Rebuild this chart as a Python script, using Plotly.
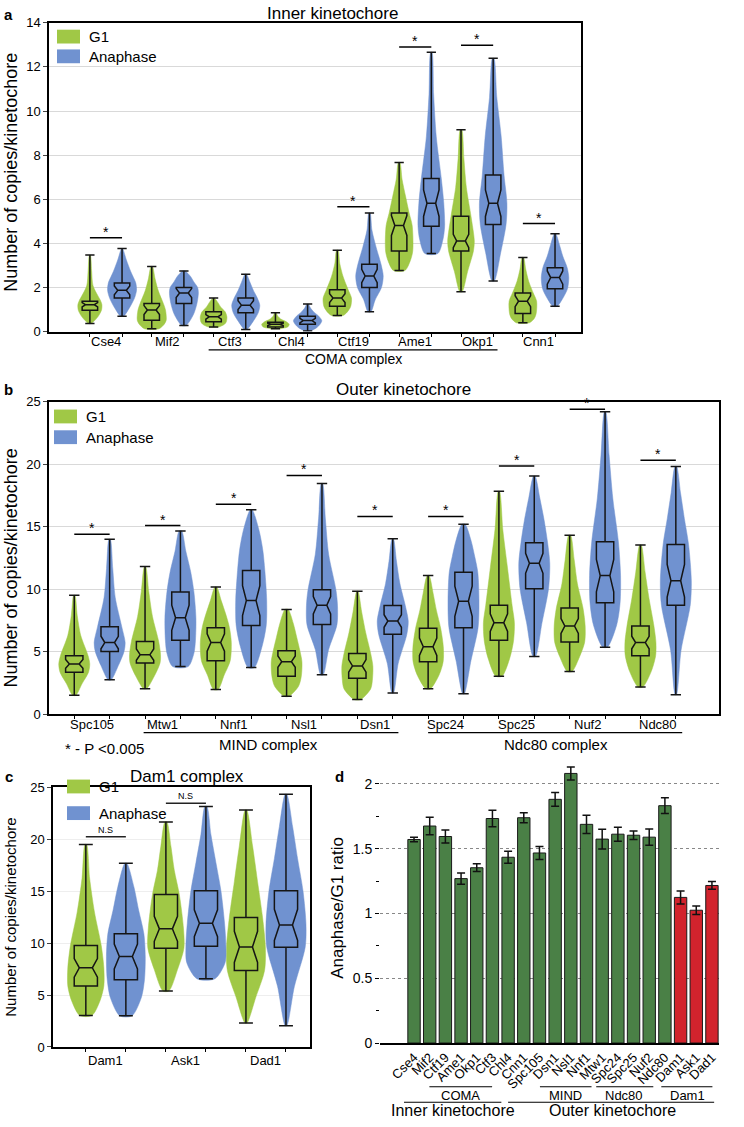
import plotly.graph_objects as go

W, H = 744, 1127
def px(x): return x / W
def py(y): return 1 - y / H

GREEN = "#a0c846"
BLUE = "#7092d0"
DGREEN = "#4a8046"
RED = "#d2232d"
FONT = "Liberation Sans, Arial, sans-serif"

# ---------------- Panel a: inner kinetochore ----------------
A_CATS = ["Cse4", "Mif2", "Ctf3", "Chl4", "Ctf19", "Ame1", "Okp1", "Cnn1"]
A_G1_LO = [0.37, 0.13, 0.21, 0.13, 0.73, 2.77, 1.81, 0.40]
A_G1_Q1 = [0.97, 0.52, 0.45, 0.21, 1.15, 3.66, 3.66, 0.82]
A_G1_MED = [1.22, 0.98, 0.67, 0.33, 1.52, 4.81, 4.11, 1.38]
A_G1_Q3 = [1.38, 1.28, 0.90, 0.43, 1.90, 5.38, 5.23, 1.75]
A_G1_HI = [3.47, 2.95, 1.52, 0.85, 3.69, 7.67, 9.15, 3.36]
A_G1_NOTCH = [0.10, 0.20, 0.10, 0.05, 0.20, 0.45, 0.30, 0.25]
A_G1_DENS = [
    [0.10, 0.55, 0.80, 0.83, 0.75, 0.22, 0.12, 0.03],
    [0.50, 0.85, 1.00, 0.95, 0.80, 0.46, 0.23, 0.05],
    [0.35, 0.75, 0.88, 0.92, 0.80, 0.50, 0.30, 0.05],
    [0.30, 0.65, 0.85, 0.95, 0.80, 0.37, 0.15, 0.05],
    [0.40, 0.75, 0.93, 0.98, 0.75, 0.40, 0.17, 0.05],
    [0.40, 0.77, 0.94, 0.90, 0.69, 0.44, 0.20, 0.05],
    [0.08, 0.46, 0.86, 0.92, 0.69, 0.37, 0.20, 0.05],
    [0.45, 0.80, 0.92, 0.95, 0.72, 0.40, 0.20, 0.05],
]
A_AN_LO = [0.70, 0.28, 0.10, 0.03, 0.90, 3.54, 2.30, 1.15]
A_AN_Q1 = [1.52, 1.27, 0.85, 0.33, 2.00, 4.78, 4.86, 1.94]
A_AN_MED = [1.87, 1.75, 1.20, 0.50, 2.52, 5.82, 5.82, 2.45]
A_AN_Q3 = [2.20, 2.00, 1.52, 0.70, 3.05, 6.94, 7.10, 2.90]
A_AN_HI = [3.77, 2.75, 2.60, 1.25, 5.38, 12.66, 12.39, 4.44]
A_AN_NOTCH = [0.20, 0.20, 0.20, 0.10, 0.30, 0.60, 0.60, 0.30]
A_AN_DENS = [
    [0.10, 0.54, 0.86, 1.00, 0.95, 0.60, 0.30, 0.03],
    [0.15, 0.66, 0.90, 1.00, 0.95, 0.69, 0.46, 0.08],
    [0.08, 0.52, 0.86, 0.97, 0.80, 0.52, 0.29, 0.05],
    [0.15, 0.63, 0.86, 0.98, 0.77, 0.44, 0.20, 0.05],
    [0.10, 0.40, 0.83, 0.95, 0.80, 0.46, 0.17, 0.04],
    [0.45, 0.80, 0.92, 0.86, 0.69, 0.34, 0.16, 0.04],
    [0.08, 0.52, 0.89, 0.95, 0.75, 0.55, 0.25, 0.05],
    [0.15, 0.57, 0.86, 0.95, 0.84, 0.54, 0.31, 0.05],
]
A_SIG_IDX = [0, 4, 5, 6, 7]
A_SIG_Y = [4.25, 5.66, 12.9, 12.98, 4.9]

# ---------------- Panel b: outer kinetochore ----------------
B_CATS = ["Spc105", "Mtw1", "Nnf1", "Nsl1", "Dsn1", "Spc24", "Spc25", "Nuf2", "Ndc80"]
B_G1_LO = [1.53, 2.06, 2.00, 1.45, 1.19, 2.06, 3.06, 3.43, 2.19]
B_G1_Q1 = [3.38, 4.12, 4.30, 3.06, 2.90, 4.22, 5.94, 5.80, 4.70]
B_G1_MED = [4.04, 4.78, 5.75, 4.22, 3.88, 5.41, 7.34, 7.07, 5.75]
B_G1_Q3 = [4.70, 5.83, 6.94, 5.09, 4.88, 6.89, 8.73, 8.50, 7.07]
B_G1_HI = [9.52, 11.82, 10.18, 8.39, 9.84, 11.10, 17.84, 14.33, 13.54]
B_G1_NOTCH = [0.35, 0.45, 0.70, 0.45, 0.50, 0.70, 0.70, 0.60, 0.50]
B_G1_DENS = [
    [0.10, 0.50, 0.92, 1.00, 0.89, 0.42, 0.19, 0.04],
    [0.10, 0.61, 0.97, 1.00, 0.88, 0.48, 0.24, 0.04],
    [0.15, 0.54, 0.93, 1.00, 0.88, 0.64, 0.35, 0.06],
    [0.15, 0.77, 0.95, 0.99, 0.86, 0.65, 0.43, 0.10],
    [0.20, 0.86, 0.98, 1.00, 0.86, 0.54, 0.28, 0.04],
    [0.15, 0.70, 0.97, 0.98, 0.81, 0.54, 0.32, 0.06],
    [0.20, 0.70, 0.95, 1.00, 0.85, 0.55, 0.25, 0.04],
    [0.15, 0.64, 0.97, 1.00, 0.86, 0.50, 0.29, 0.06],
    [0.15, 0.70, 0.98, 1.00, 0.87, 0.56, 0.30, 0.05],
]
B_AN_LO = [2.77, 3.83, 3.75, 3.17, 1.72, 1.66, 4.64, 5.38, 1.58]
B_AN_Q1 = [5.04, 5.94, 7.12, 7.20, 6.41, 6.94, 10.05, 8.92, 8.73]
B_AN_MED = [5.75, 7.73, 9.10, 8.73, 7.47, 9.05, 12.08, 11.10, 10.69]
B_AN_Q3 = [7.02, 9.79, 11.50, 9.97, 8.70, 11.37, 13.72, 13.80, 13.59]
B_AN_HI = [14.00, 14.67, 16.37, 18.47, 14.04, 15.20, 19.05, 24.20, 19.82]
B_AN_NOTCH = [0.50, 1.00, 1.20, 0.70, 0.50, 1.20, 0.80, 1.30, 1.30]
B_AN_DENS = [
    [0.10, 0.56, 0.93, 1.00, 0.78, 0.36, 0.20, 0.04],
    [0.50, 0.87, 0.97, 1.00, 0.87, 0.66, 0.35, 0.08],
    [0.20, 0.70, 0.97, 1.00, 0.88, 0.75, 0.50, 0.06],
    [0.08, 0.43, 0.97, 1.00, 0.90, 0.43, 0.22, 0.04],
    [0.05, 0.35, 0.91, 1.00, 0.81, 0.46, 0.24, 0.04],
    [0.05, 0.48, 0.94, 1.00, 0.92, 0.72, 0.48, 0.10],
    [0.08, 0.50, 0.92, 1.00, 0.86, 0.64, 0.36, 0.05],
    [0.15, 0.75, 0.97, 1.00, 0.86, 0.50, 0.26, 0.04],
    [0.04, 0.34, 0.93, 1.00, 0.82, 0.55, 0.30, 0.05],
]
B_SIG_IDX = [0, 1, 2, 3, 4, 5, 6, 7, 8]
B_SIG_Y = [14.4, 15.1, 16.8, 19.1, 15.83, 15.83, 19.85, 24.4, 20.32]

# ---------------- Panel c: Dam1 complex ----------------
C_CATS = ["Dam1", "Ask1", "Dad1"]
C_G1_LO = [3.03, 5.40, 2.31]
C_G1_Q1 = [5.88, 9.51, 7.36]
C_G1_MED = [7.62, 11.38, 9.64]
C_G1_Q3 = [9.77, 14.70, 12.48]
C_G1_HI = [19.50, 21.68, 22.82]
C_G1_NOTCH = [0.90, 1.20, 1.50]
C_G1_DENS = [
    [0.30, 0.71, 0.90, 0.90, 0.77, 0.43, 0.19, 0.04],
    [0.15, 0.58, 0.90, 0.88, 0.67, 0.42, 0.25, 0.05],
    [0.05, 0.50, 0.93, 0.97, 0.83, 0.58, 0.33, 0.04],
]
C_AN_LO = [3.00, 6.57, 2.05]
C_AN_Q1 = [6.48, 9.70, 9.61]
C_AN_MED = [8.72, 11.92, 11.76]
C_AN_Q3 = [10.90, 15.04, 15.04]
C_AN_HI = [17.70, 23.17, 24.34]
C_AN_NOTCH = [1.20, 1.30, 1.50]
C_AN_DENS = [
    [0.30, 0.77, 0.93, 0.97, 0.90, 0.64, 0.40, 0.05],
    [0.45, 0.96, 1.00, 0.93, 0.75, 0.50, 0.25, 0.05],
    [0.04, 0.42, 0.96, 1.00, 0.85, 0.58, 0.33, 0.04],
]
C_NS_IDX = [0, 1]
C_NS_Y = [20.26, 23.48]

# ---------------- Panel d: ratio bars ----------------
D_GENES = ["Cse4", "Mif2", "Ctf19", "Ame1", "Okp1", "Ctf3", "Chl4", "Cnn1", "Spc105",
           "Dsn1", "Nsl1", "Nnf1", "Mtw1", "Spc24", "Spc25", "Nuf2", "Ndc80",
           "Dam1", "Ask1", "Dad1"]
D_RATIO = [1.571, 1.675, 1.594, 1.269, 1.353, 1.733, 1.434, 1.739, 1.467, 1.881,
           2.081, 1.688, 1.574, 1.612, 1.604, 1.589, 1.832, 1.124, 1.025, 1.216]
D_ERR = [0.018, 0.068, 0.050, 0.043, 0.030, 0.063, 0.046, 0.038, 0.050, 0.053,
         0.050, 0.070, 0.076, 0.054, 0.033, 0.063, 0.061, 0.050, 0.033, 0.030]
D_DAM1 = ["Dam1", "Ask1", "Dad1"]

fig = go.Figure()


def violins(pos, lo, q1, med, q3, hi, dens, maxw, color, xa, ya):
    xs, ys = [], []
    for i, p in enumerate(pos):
        lev = [lo[i], (lo[i] + q1[i]) / 2, q1[i], med[i], q3[i],
               q3[i] + (hi[i] - q3[i]) / 3, q3[i] + 2 * (hi[i] - q3[i]) / 3, hi[i]]
        w = dens[i]
        rx = [p + wk * maxw for wk in w]
        lx = [p - wk * maxw for wk in w]
        xs += rx + lx[::-1] + [rx[0], None]
        ys += lev + lev[::-1] + [lev[0], None]
    return go.Scatter(x=xs, y=ys, mode="lines", fill="toself", fillcolor=color,
                      line=dict(color=color, width=0.5, shape="spline", smoothing=0.8),
                      hoverinfo="skip", showlegend=False, xaxis=xa, yaxis=ya)


def boxes(pos, lo, q1, med, q3, hi, notch, bw, xa, ya):
    return go.Box(x=pos, q1=q1, median=med, q3=q3, lowerfence=lo, upperfence=hi,
                  notched=True, notchspan=notch, notchwidth=0.22, width=bw,
                  whiskerwidth=0.6, fillcolor="rgba(0,0,0,0)", boxpoints=False,
                  line=dict(color="#151515", width=1.5), showlegend=False,
                  hoverinfo="skip", xaxis=xa, yaxis=ya)


def panel(cats, g1, an, off, maxw, bw, xa, ya, xb, yb):
    n = len(cats)
    pg = [i + 1 - off for i in range(n)]
    pa = [i + 1 + off for i in range(n)]
    fig.add_trace(violins(pg, *g1[:6], maxw, GREEN, xa, ya))
    fig.add_trace(violins(pa, *an[:6], maxw, BLUE, xa, ya))
    fig.add_trace(boxes(pg, g1[0], g1[1], g1[2], g1[3], g1[4], g1[6], bw, xb, yb))
    fig.add_trace(boxes(pa, an[0], an[1], an[2], an[3], an[4], an[6], bw, xb, yb))
    return pg, pa


shapes, annos = [], []

# panel a
OFF_A = 0.26
pga, paa = panel(A_CATS,
                 (A_G1_LO, A_G1_Q1, A_G1_MED, A_G1_Q3, A_G1_HI, A_G1_DENS, A_G1_NOTCH),
                 (A_AN_LO, A_AN_Q1, A_AN_MED, A_AN_Q3, A_AN_HI, A_AN_DENS, A_AN_NOTCH),
                 OFF_A, 0.234, 0.25, "x", "y", "x5", "y5")
for i, yv in zip(A_SIG_IDX, A_SIG_Y):
    shapes.append(dict(type="line", xref="x", yref="y", x0=pga[i], x1=paa[i], y0=yv, y1=yv,
                       line=dict(color="black", width=1.5)))
    annos.append(dict(xref="x", yref="y", x=(pga[i] + paa[i]) / 2, y=yv, text="*", showarrow=False,
                      yanchor="bottom", yshift=-4, font=dict(size=14, color="black")))

# panel b
OFF_B = 0.25
pgb, pab = panel(B_CATS,
                 (B_G1_LO, B_G1_Q1, B_G1_MED, B_G1_Q3, B_G1_HI, B_G1_DENS, B_G1_NOTCH),
                 (B_AN_LO, B_AN_Q1, B_AN_MED, B_AN_Q3, B_AN_HI, B_AN_DENS, B_AN_NOTCH),
                 OFF_B, 0.219, 0.245, "x2", "y2", "x6", "y6")
for i, yv in zip(B_SIG_IDX, B_SIG_Y):
    shapes.append(dict(type="line", xref="x2", yref="y2", x0=pgb[i], x1=pab[i], y0=yv, y1=yv,
                       line=dict(color="black", width=1.5)))
    annos.append(dict(xref="x2", yref="y2", x=(pgb[i] + pab[i]) / 2, y=yv, text="*", showarrow=False,
                      yanchor="bottom", yshift=-4, font=dict(size=14, color="black")))

# panel c
OFF_C = 0.25
pgc, pac = panel(C_CATS,
                 (C_G1_LO, C_G1_Q1, C_G1_MED, C_G1_Q3, C_G1_HI, C_G1_DENS, C_G1_NOTCH),
                 (C_AN_LO, C_AN_Q1, C_AN_MED, C_AN_Q3, C_AN_HI, C_AN_DENS, C_AN_NOTCH),
                 OFF_C, 0.25, 0.29, "x3", "y3", "x7", "y7")
for i, yv in zip(C_NS_IDX, C_NS_Y):
    shapes.append(dict(type="line", xref="x3", yref="y3", x0=pgc[i], x1=pac[i], y0=yv, y1=yv,
                       line=dict(color="#222", width=1.5)))
    annos.append(dict(xref="x3", yref="y3", x=(pgc[i] + pac[i]) / 2, y=yv, text="N.S", showarrow=False,
                      yanchor="bottom", yshift=0, font=dict(size=9, color="black")))

# panel d
d_colors = [RED if g in D_DAM1 else DGREEN for g in D_GENES]
fig.add_trace(go.Bar(x=list(range(len(D_GENES))), y=D_RATIO, width=0.79,
                     marker=dict(color=d_colors, line=dict(color="#1a1a1a", width=1)),
                     error_y=dict(type="data", array=D_ERR, color="#111", thickness=1.5, width=4),
                     showlegend=False, xaxis="x4", yaxis="y4"))

# ---------- axes ----------
ax_common = dict(showline=True, linecolor="black", linewidth=1.5, mirror=True,
                 tickfont=dict(size=13, color="black", family=FONT), zeroline=False)


def xcat(dom, rng, anchor):
    return dict(domain=dom, range=rng, anchor=anchor, showticklabels=False, ticks="",
                showgrid=False, **ax_common)


def xover(base, rng, anchor, pos):
    return dict(overlaying=base, range=rng, anchor=anchor, tickvals=pos, ticks="outside",
                ticklen=4, tickcolor="black", tickwidth=1.2, showticklabels=False,
                showline=False, showgrid=False, zeroline=False)


def yover(base, rng, anchor):
    return dict(overlaying=base, range=rng, anchor=anchor, visible=False, showgrid=False,
                zeroline=False)


XA_RNG = [0.079, 8.68]
XB_RNG = [0.393, 9.86]
XC_RNG = [0.34, 3.55]

layout = dict(
    width=W, height=H, margin=dict(l=0, r=0, t=0, b=0),
    paper_bgcolor="white", plot_bgcolor="white", boxmode="overlay",
    font=dict(family=FONT, color="black"), showlegend=False,
    xaxis=xcat([px(49), px(581)], XA_RNG, "y"),
    yaxis=dict(domain=[py(329), py(16)], range=[0, 14], anchor="x", dtick=2,
               ticks="outside", ticklen=4, showgrid=True, gridcolor="#d9d9d9", **ax_common),
    xaxis2=xcat([px(49), px(719)], XB_RNG, "y2"),
    yaxis2=dict(domain=[py(717), py(400)], range=[0, 25], anchor="x2", dtick=5,
                ticks="outside", ticklen=4, showgrid=True, gridcolor="#d9d9d9", **ax_common),
    xaxis3=xcat([px(53), px(310)], XC_RNG, "y3"),
    yaxis3=dict(domain=[py(1054), py(791)], range=[0, 25], anchor="x3", dtick=5,
                ticks="outside", ticklen=4, showgrid=True, gridcolor="#eeeeee", **ax_common),
    xaxis5=xover("x", XA_RNG, "y5", pga + paa),
    yaxis5=yover("y", [0, 14], "x5"),
    xaxis6=xover("x2", XB_RNG, "y6", pgb + pab),
    yaxis6=yover("y2", [0, 25], "x6"),
    xaxis7=xover("x3", XC_RNG, "y7", pgc + pac),
    yaxis7=yover("y3", [0, 25], "x7"),
    xaxis4=dict(domain=[px(380), px(719)], range=[-2.17, 19.45], anchor="y4",
                tickvals=list(range(len(D_GENES))), ticktext=D_GENES, tickangle=-45,
                ticks="", showline=True, linecolor="black", linewidth=1.5, zeroline=False,
                tickfont=dict(size=13, color="black", family=FONT), showgrid=False),
    yaxis4=dict(domain=[py(1050), py(767.7)], range=[0, 2.15], anchor="x4",
                tickvals=[0, 0.5, 1, 1.5, 2], ticktext=["0", "0.5", "1", "1.5", "2"],
                ticks="outside", ticklen=4, tickcolor="black", showline=False, zeroline=False,
                minor=dict(dtick=0.25, ticks="outside", ticklen=3, tickcolor="black", showgrid=False),
                showgrid=True, gridcolor="#888888", griddash="dot",
                tickfont=dict(size=14, color="black", family=FONT)),
)


def ptext(x, y, text, size, bold=False, angle=0, xanchor="center"):
    t = "<b>%s</b>" % text if bold else text
    annos.append(dict(xref="paper", yref="paper", x=px(x), y=py(y), text=t, showarrow=False,
                      textangle=angle, xanchor=xanchor, yanchor="middle",
                      font=dict(size=size, color="black", family=FONT)))


def dtext(xref, x, ypx, text, size):
    annos.append(dict(xref=xref, yref="paper", x=x, y=py(ypx), text=text, showarrow=False,
                      yanchor="middle", font=dict(size=size, color="black", family=FONT)))


# category labels for violin panels
for i, c in enumerate(A_CATS):
    dtext("x", i + 1, 339, c, 13)
for i, c in enumerate(B_CATS):
    dtext("x2", i + 1, 727, c, 13)
for i, c in enumerate(C_CATS):
    dtext("x3", i + 1, 1068, c, 13)

# panel letters and titles
ptext(2, 8, "a", 15, bold=True, xanchor="left")
ptext(2, 388, "b", 15, bold=True, xanchor="left")
ptext(3, 780, "c", 15, bold=True, xanchor="left")
ptext(333, 780, "d", 15, bold=True, xanchor="left")
ptext(332, 7, "Inner kinetochore", 17)
ptext(403, 388, "Outer kinetochore", 17)
ptext(187, 780, "Dam1 complex", 17)
ptext(11, 168, "Number of copies/kinetochore", 18, angle=-90)
ptext(11, 569, "Number of copies/kinetochore", 18, angle=-90)
ptext(11, 923, "Number of copies/kinetochore", 15, angle=-90)
ptext(338, 913, "Anaphase/G1 ratio", 17, angle=-90)

# legends (a, b, c)
for (x0, yg, yb, s) in [(57, 30, 50, 15), (54, 415, 436, 15), (67, 790, 817, 15)]:
    for yc, col, lab in [(yg, GREEN, "G1"), (yb, BLUE, "Anaphase")]:
        shapes.append(dict(type="rect", xref="paper", yref="paper", x0=px(x0), x1=px(x0 + 23),
                           y0=py(yc + 7), y1=py(yc - 7), fillcolor=col, line=dict(width=0)))
        ptext(x0 + 30, yc, lab, s, xanchor="left")


def hline_data(xref, x0, x1, ypx):
    shapes.append(dict(type="line", xref=xref, yref="paper", x0=x0, x1=x1, y0=py(ypx), y1=py(ypx),
                       line=dict(color="black", width=1.2)))


# group brackets panel a / b
hline_data("x", 3 - 0.34, 7 + 0.33, 347.5)
dtext("x", 5, 357, "COMA complex", 14)
hline_data("x2", 2 - 0.27, 5 + 0.33, 735.5)
dtext("x2", 3.5, 747, "MIND complex", 15)
hline_data("x2", 6 - 0.25, 9 + 0.34, 735.5)
dtext("x2", 7.55, 747, "Ndc80 complex", 15)
ptext(63, 751, "* - P <0.005", 15, xanchor="left")

# group brackets panel d
for (a, b, yy) in [(0.98, 4.98, 1094.3), (8.03, 11.32, 1094.3), (11.62, 15.26, 1094.3),
                   (15.77, 19.03, 1094.3), (-0.64, 5.57, 1110.0), (6.0, 19.14, 1110.0)]:
    hline_data("x4", a, b, yy)
dtext("x4", 2.94, 1103, "COMA", 13)
dtext("x4", 9.64, 1103, "MIND", 13)
dtext("x4", 13.41, 1103, "Ndc80", 13)
dtext("x4", 17.43, 1103, "Dam1", 13)
dtext("x4", 2.49, 1118, "Inner kinetochore", 16)
dtext("x4", 12.64, 1118, "Outer kinetochore", 16)

layout["shapes"] = shapes
layout["annotations"] = annos
fig.update_layout(**layout)
fig.write_html("out.html", config={"displayModeBar": False},
               post_script="document.body.style.margin='0';document.body.style.overflow='hidden';")
